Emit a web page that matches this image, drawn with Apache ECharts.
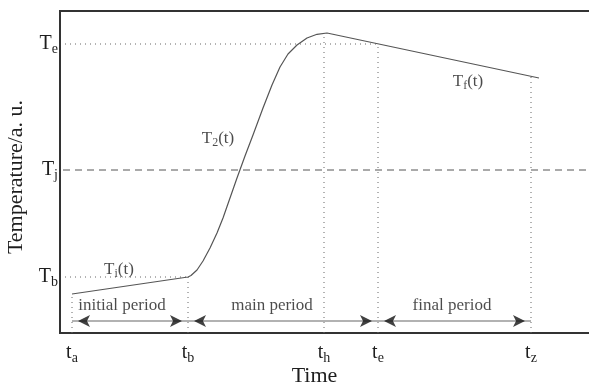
<!DOCTYPE html>
<html><head><meta charset="utf-8">
<script src="https://cdn.jsdelivr.net/npm/echarts@6/dist/echarts.min.js"></script>
<style>html,body{margin:0;padding:0;background:#fff}#c{width:589px;height:385px}</style>
</head><body><div id="c"></div>
<script>
// Temperature curve (arbitrary units)
const curveX = [12, 128, 131, 137, 143, 150, 157, 163, 170, 177, 185, 193, 203, 212, 220, 228, 237, 247, 257, 267, 479];
const curveY = [39, 56, 57.5, 63, 72, 85, 100, 115, 135, 155, 177, 198, 225, 248, 266, 279, 288, 295, 298.7, 300, 255];

// Tick labels
const timeTickValues = [12, 128, 264, 318, 471];
const timeTickSubs = ['a', 'b', 'h', 'e', 'z'];
const tempTickValues = [56, 163, 289];
const tempTickSubs = ['b', 'j', 'e'];

// Vertical dotted guides: height reached at each time tick
const timeGuideTops = [39, 56, 300, 289, 257];
// Horizontal guides
const tempGuideStarts = [5, 3, 5];
const tempGuideEnds = [128, 539, 318];
const tempGuideTypes = ['dotted', 'dashed', 'dotted'];

// Periods
const periodStarts = [12, 128, 318];
const periodEnds = [128, 318, 471];
const periodNames = ['initial period', 'main period', 'final period'];
const periodLabelX = [62, 212, 392];
const arrowLevel = 12;
const periodLabelLevel = 27;

// Curve labels
const curveLabelSubs = ['i', '2', 'f'];
const curveLabelX = [59, 158, 408];
const curveLabelY = [63, 194, 251];

const XMAX = 539, YMAX = 322;
const serif = 'Liberation Serif';
const ink = '#1e1e1e';

const chart = echarts.init(document.getElementById('c'), null, {renderer: 'canvas'});

const richTick = {
  m: {fontFamily: serif, fontSize: 20, color: ink},
  s: {fontFamily: serif, fontSize: 14, color: ink, padding: [10, 0, 0, 0]}
};
const richCurve = {
  m: {fontFamily: serif, fontSize: 17, color: ink},
  s: {fontFamily: serif, fontSize: 12, color: ink, padding: [8, 0, 0, 0]},
  p: {fontFamily: serif, fontSize: 17, color: ink}
};

const series = [];
series.push({
  type: 'line', data: curveX.map((x, i) => [x, curveY[i]]),
  showSymbol: false, symbol: 'none', smooth: false,
  lineStyle: {color: '#555', width: 1.2, join: 'round'}, z: 5, silent: true
});
timeTickValues.forEach((t, i) => {
  series.push({
    type: 'line', data: [[t, 0], [t, timeGuideTops[i]]], symbol: 'none',
    lineStyle: {color: '#666', width: 1, type: [1, 4]}, z: 2, silent: true
  });
});
tempTickValues.forEach((v, i) => {
  series.push({
    type: 'line', data: [[tempGuideStarts[i], v], [tempGuideEnds[i], v]], symbol: 'none',
    lineStyle: {color: tempGuideTypes[i] === 'dashed' ? '#555' : '#666', width: 1,
      type: tempGuideTypes[i] === 'dashed' ? [7, 5] : [1, 4]}, z: 2, silent: true
  });
});
periodStarts.forEach((s, i) => {
  series.push({
    type: 'line', data: [[s, arrowLevel], [periodEnds[i], arrowLevel]], symbol: 'none',
    lineStyle: {color: '#999', width: 1.5}, z: 3, silent: true
  });
});
const heads = [];
periodStarts.forEach((s, i) => {
  heads.push({value: [s, arrowLevel], symbolRotate: 90, symbolOffset: [6, 0]});
  heads.push({value: [periodEnds[i], arrowLevel], symbolRotate: -90, symbolOffset: [-6, 0]});
});
series.push({
  type: 'scatter', data: heads, symbol: 'arrow', symbolSize: [9, 12],
  itemStyle: {color: '#111'}, z: 6, silent: true
});
series.push({
  type: 'scatter', symbolSize: 0, silent: true, z: 7,
  data: periodNames.map((n, i) => ({value: [periodLabelX[i], periodLabelLevel], name: n})),
  label: {show: true, position: 'inside', formatter: p => p.name,
    fontFamily: serif, fontSize: 17, color: ink}
});
series.push({
  type: 'scatter', symbolSize: 0, silent: true, z: 7,
  data: curveLabelX.map((x, i) => ({value: [x, curveLabelY[i]], name: curveLabelSubs[i]})),
  label: {show: true, position: 'inside',
    formatter: p => '{m|T}{s|' + p.name + '}{p|(t)}', rich: richCurve}
});

chart.setOption({
  animation: false,
  backgroundColor: '#fff',
  grid: {left: 60, top: 11, right: -10, bottom: 52, outerBoundsMode: 'none', containLabel: false,
    show: true, borderColor: '#333', borderWidth: 2, backgroundColor: 'transparent'},
  xAxis: {
    type: 'value', min: 0, max: XMAX,
    name: 'Time', nameLocation: 'middle', nameGap: 32, nameMoveOverlap: false,
    nameTextStyle: {fontFamily: serif, fontSize: 22, color: ink, padding: [0, 30, 0, 0]},
    axisLine: {show: false}, axisTick: {show: false}, splitLine: {show: false},
    axisLabel: {
      customValues: timeTickValues, margin: 8,
      formatter: v => '{m|t}{s|' + timeTickSubs[timeTickValues.indexOf(v)] + '}',
      rich: richTick
    }
  },
  yAxis: {
    type: 'value', min: 0, max: YMAX,
    name: 'Temperature/a. u.', nameLocation: 'middle', nameGap: 33, nameRotate: 90, nameMoveOverlap: false,
    nameTextStyle: {fontFamily: serif, fontSize: 22, color: ink, padding: [0, 10, 0, 0]},
    axisLine: {show: false}, axisTick: {show: false}, splitLine: {show: false},
    axisLabel: {
      customValues: tempTickValues, margin: 2,
      formatter: v => '{m|T}{s|' + tempTickSubs[tempTickValues.indexOf(v)] + '}',
      rich: richTick
    }
  },
  series: series
});
</script></body></html>
